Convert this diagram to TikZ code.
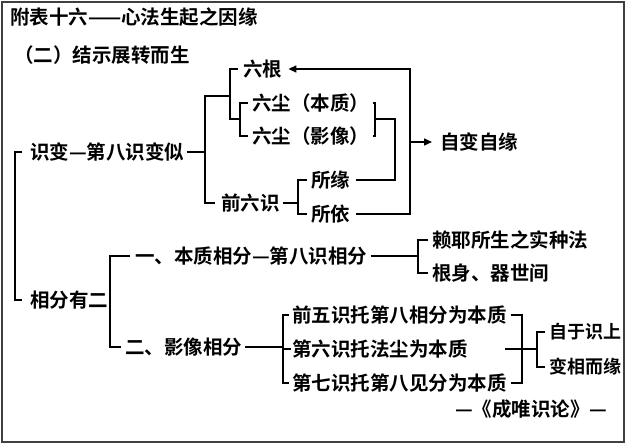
\documentclass[tikz,border=0pt]{standalone}
\usepackage{fontspec}
\newfontfamily\cjkb{Noto Sans CJK SC Bold}
\usetikzlibrary{arrows.meta,calc}
\begin{document}
\begin{tikzpicture}[x=1pt,y=-1pt,
  t/.style={anchor=west,inner sep=0pt,font=\cjkb\fontsize{19.5}{20}\selectfont},
  ln/.style={line width=1.5pt},
  ar/.style={ln,-{Triangle[length=8pt,width=7pt]}}]
\useasboundingbox (0,0) rectangle (626,444);
\draw[line width=2pt,black!75] (2,2) rectangle (624,442);
\node[t] (title) at (10,17) {附表十六——心法生起之因缘};
\node[t] (sub) at (14,55) {（二）结示展转而生};
\node[t] (sb) at (30,152) {识变—第八识变似};
\node[t] (lg) at (243,69) {六根};
\node[t] (cb) at (252,103) {六尘（本质）};
\node[t] (cy) at (252,136) {六尘（影像）};
\node[t] (qls) at (221,203) {前六识};
\node[t] (sy) at (311,180) {所缘};
\node[t] (syi) at (311,214) {所依};
\node[t] (zb) at (440,142) {自变自缘};
\node[t] (xf) at (30,300) {相分有二};
\node[t] (bz) at (135,256) {一、本质相分—第八识相分};
\node[t] (ly) at (432,240) {赖耶所生之实种法};
\node[t] (gs) at (432,273) {根身、器世间};
\node[t] (yx) at (125,347) {二、影像相分};
\node[t] (q5) at (292,315) {前五识托第八相分为本质};
\node[t] (d6) at (292,349) {第六识托法尘为本质};
\node[t] (d7) at (292,383) {第七识托第八见分为本质};
\node[t,font=\cjkb\fontsize{18}{18}\selectfont] (zy) at (549,332) {自于识上};
\node[t,font=\cjkb\fontsize{18}{18}\selectfont] (bx) at (549,367) {变相而缘};
\node[t] (ft) at (455,409) {—《成唯识论》—};
% main bracket
\draw[ln] (sb.west)+(-8,0) -| (15,300) -- ($(xf.west)+(-8,0)$);
% 识变 bracket
\draw[ln] ($(sb.east)+(2,0)$) -- (205,152);
\draw[ln] (212,96) -- (205,96) |- ($(qls.west)+(-6,0)$);
\draw[ln] (205,96) -- (230,96);
\draw[ln] ($(lg.west)+(-5,0)$) -| (230,119) -- (240,119);
\draw[ln] ($(cb.west)+(-4,0)$) -| (240,136) -- ($(cy.west)+(-4,0)$);
% 前六识 bracket
\draw[ln] ($(qls.east)+(3,0)$) -- (298,203);
\draw[ln] ($(sy.west)+(-4,0)$) -| (298,214) -- ($(syi.west)+(-4,0)$);
% right of 六尘
\draw[ln] ($(cb.east)+(4,0)$) -| (375,136) -- ($(cy.east)+(4,0)$);
\draw[ln] (375,119) -| (395,180) -- ($(sy.east)+(6,0)$);
\draw[ar] ($(syi.east)+(6,0)$) -| (410,69) -- ($(lg.east)+(6,0)$);
\draw[ar] (410,142) -- ($(zb.west)+(-8,0)$);
% 相分有二
\draw[ln] ($(xf.east)+(3,0)$) -- (110,300);
\draw[ln] (130,256) -| (110,347) -- ($(yx.west)+(-4,0)$);
\draw[ln] ($(bz.east)+(3,0)$) -- (418,256);
\draw[ln] ($(ly.west)+(-4,0)$) -| (418,273) -- ($(gs.west)+(-4,0)$);
\draw[ln] ($(yx.east)+(3,0)$) -- (283,347);
\draw[ln] ($(q5.west)+(-3,0)$) -| (283,383) -- ($(d7.west)+(-3,0)$);
\draw[ln] (283,349) -- ($(d6.west)+(-1,0)$);
\draw[ln] ($(q5.east)+(4,0)$) -| (522,383) -- ($(d7.east)+(4,0)$);
\draw[ln] (505,349) -- (537,349);
\draw[ln] ($(zy.west)+(-4,0)$) -| (537,367) -- ($(bx.west)+(-4,0)$);
\end{tikzpicture}
\end{document}
